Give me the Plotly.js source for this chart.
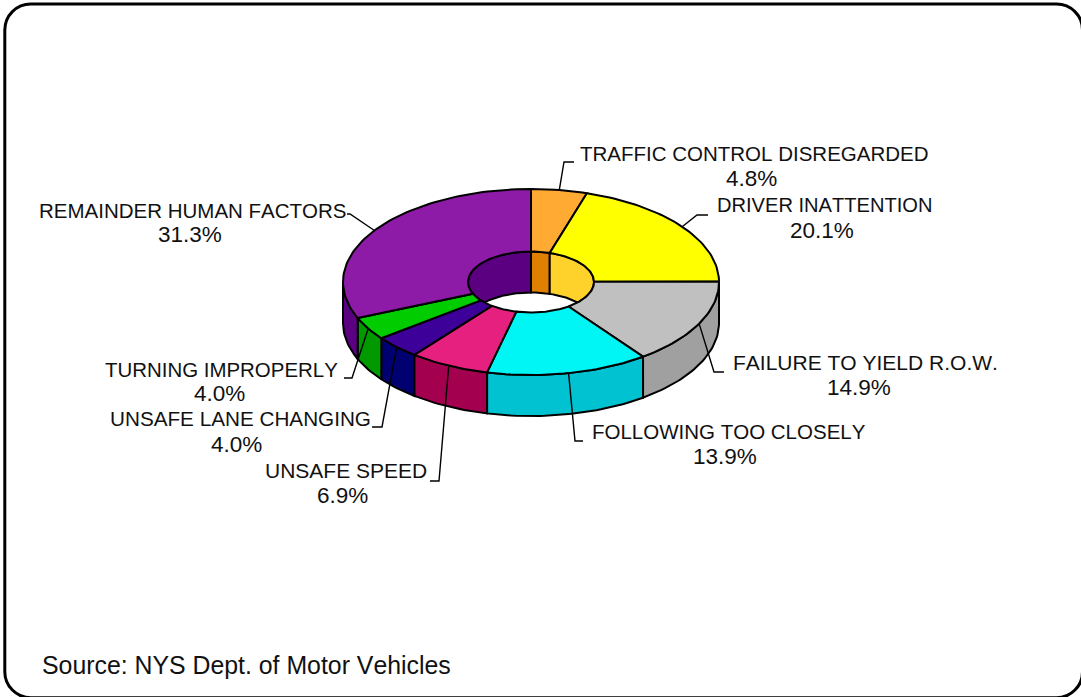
<!DOCTYPE html>
<html>
<head>
<meta charset="utf-8">
<script src="https://cdn.plot.ly/plotly-3.0.1.min.js"></script>
<style>html,body{margin:0;padding:0;background:#fff}#chart{width:1081px;height:697px}svg text{font-kerning:none !important;}</style>
</head>
<body>
<div id="chart"></div>
<script>
// Data
var categories = ["TRAFFIC CONTROL DISREGARDED","DRIVER INATTENTION","FAILURE TO YIELD R.O.W.","FOLLOWING TOO CLOSELY","UNSAFE SPEED","UNSAFE LANE CHANGING","TURNING IMPROPERLY","REMAINDER HUMAN FACTORS"];
var values = [4.8,20.1,14.9,13.9,6.9,4.0,4.0,31.3];
var topColors = ["#ffaa33","#ffff00","#c0c0c0","#00f5f5","#e6207e","#3d0099","#00cc00","#8e1ba8"];
var outerWallColors = ["#cc8800","#cccc00","#a0a0a0","#00c2d0","#a30050","#000070","#009900","#5a0080"];
var innerWallColors = ["#e08000","#ffd22b","#a0a0a0","#00c2d0","#a30050","#000070","#009900","#5a0080"];
var sourceText = "Source: NYS Dept. of Motor Vehicles";

// Label placement (page coordinates)
var nameX = [754.5,824,865,728.5,346,240,221,193];
var nameY = [153,205,362,431,470,418,369,210];
var nameSizes = [20.5,20.1,21,20.5,21,20.7,20.45,20.5];
var pctX  = [751,822,859,725,342,236,219,190];
var pctY  = [178,230,387,456,495,444,393,234];
var elbowX = [564,697,714,575,439,382,352,350];
var elbowY = [162,215,372,441,481,427,378,214];
var endX   = [574,708,724,583,430,372,344,347];

// Pie geometry
var cx = 531, cy = 282, rxO = 188, ryO = 93, rxI = 63, ryI = 30.5, depth = 41;
var rad = Math.PI / 180;

function steps(a, b) { var n = Math.max(2, Math.ceil(Math.abs(b - a) / 1.5)); var o = []; for (var i = 0; i <= n; i++) o.push(a + (b - a) * i / n); return o; }
function ox(t) { return cx + rxO * Math.sin(t * rad); }
function oy(t) { return cy - ryO * Math.cos(t * rad); }
function ix(t) { return cx + rxI * Math.sin(t * rad); }
function iy(t) { return cy - ryI * Math.cos(t * rad); }

function poly(xs, ys, fill) {
  xs.push(xs[0]); ys.push(ys[0]);
  return {type:"scatter", mode:"lines", x:xs, y:ys, fill:"toself", fillcolor:fill,
    line:{color:"#000", width:2}, hoverinfo:"skip", showlegend:false};
}

var starts = [], cum = 0;
values.forEach(function(v){ starts.push(cum); cum += v; });
var total = cum;
var angA = starts.map(function(s){ return s / total * 360; });
var angB = values.map(function(v, i){ return angA[i] + v / total * 360; });

var walls = [], inner = [], tops = [], leaders = [];

values.forEach(function(v, i) {
  var a = angA[i], b = angB[i];
  // Outer wall (front half, 90..270)
  var oa = Math.max(a, 90), ob = Math.min(b, 270);
  if (ob > oa) {
    var s = steps(oa, ob), xs = [], ys = [];
    s.forEach(function(t){ xs.push(ox(t)); ys.push(oy(t)); });
    s.slice().reverse().forEach(function(t){ xs.push(ox(t)); ys.push(oy(t) + depth); });
    walls.push(poly(xs, ys, outerWallColors[i]));
  }
  // Inner wall (back half of the hole)
  [[0, 90], [270, 360]].forEach(function(rng) {
    var ia = Math.max(a, rng[0]), ib = Math.min(b, rng[1]);
    if (ib > ia) {
      var s = steps(ia, ib), xs = [], ys = [];
      s.forEach(function(t){ xs.push(ix(t)); ys.push(iy(t)); });
      s.slice().reverse().forEach(function(t){
        var low = Math.min(iy(t) + depth, cy + ryI * Math.abs(Math.cos(t * rad)));
        xs.push(ix(t)); ys.push(low);
      });
      inner.push(poly(xs, ys, innerWallColors[i]));
    }
  });
  // Top face
  var s2 = steps(a, b), tx = [], ty = [];
  s2.forEach(function(t){ tx.push(ox(t)); ty.push(oy(t)); });
  s2.slice().reverse().forEach(function(t){ tx.push(ix(t)); ty.push(iy(t)); });
  tops.push(poly(tx, ty, topColors[i]));
  // Leader
  var m = (a + b) / 2;
  leaders.push({type:"scatter", mode:"lines", x:[ox(m), elbowX[i], endX[i]], y:[oy(m), elbowY[i], elbowY[i]],
    line:{color:"#000", width:1.4}, hoverinfo:"skip", showlegend:false});
});

var annotations = [];
var fontFam = "'Liberation Sans', Arial, sans-serif";
categories.forEach(function(c, i) {
  annotations.push({xref:"x", yref:"y", x:nameX[i], y:nameY[i], text:c, showarrow:false,
    xanchor:"center", yanchor:"middle", font:{family:fontFam, size:nameSizes[i], color:"#111"}});
  annotations.push({xref:"x", yref:"y", x:pctX[i], y:pctY[i], text:values[i].toFixed(1) + "%", showarrow:false,
    xanchor:"center", yanchor:"middle", font:{family:fontFam, size:22.5, color:"#111"}});
});
annotations.push({xref:"x", yref:"y", x:40, y:665, text:sourceText, showarrow:false,
  xanchor:"left", yanchor:"middle", font:{family:fontFam, size:24.85, color:"#111"}});

var layout = {
  width:1081, height:697, margin:{l:0, r:0, t:0, b:0},
  paper_bgcolor:"#fff", plot_bgcolor:"#fff", showlegend:false,
  xaxis:{range:[0,1081], visible:false, fixedrange:true},
  yaxis:{range:[697,0], visible:false, fixedrange:true},
  annotations:annotations,
  shapes:[{type:"path", xref:"x", yref:"y", layer:"below",
    path:"M4.8,30 C4.8,15.6 16.4,4 30.8,4 L1056.5,4 C1071,4 1082.5,15.6 1082.5,30 L1082.5,671.7 C1082.5,686 1071,697.7 1056.5,697.7 L30.8,697.7 C16.4,697.7 4.8,686 4.8,671.7 Z",
    line:{color:"#000", width:3}, fillcolor:"rgba(0,0,0,0)"}]
};

Plotly.newPlot("chart", walls.concat(inner, tops, leaders), layout, {displayModeBar:false, staticPlot:true});
</script>
</body>
</html>
